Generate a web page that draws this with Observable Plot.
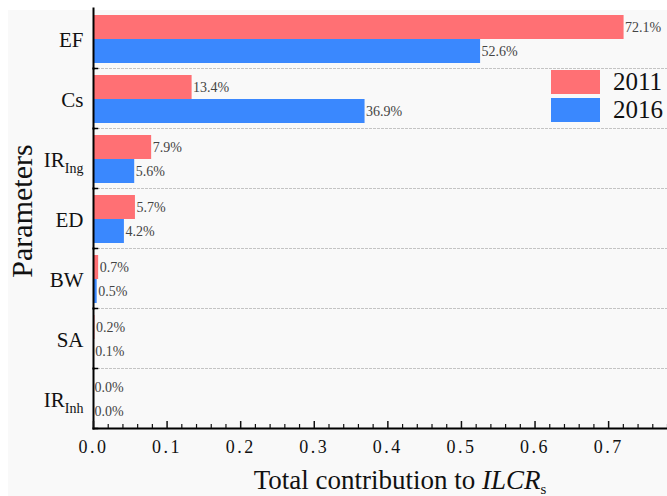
<!DOCTYPE html>
<html><head><meta charset="utf-8">
<script src="https://cdn.jsdelivr.net/npm/d3@7"></script>
<script src="https://cdn.jsdelivr.net/npm/@observablehq/plot@0.6"></script>
<style>
html,body{margin:0;padding:0;background:#fff;}
#wrap{position:relative;width:667px;height:496px;overflow:hidden;}
#panel{position:absolute;left:8px;top:10px;right:0;bottom:0;background:#f9f9f9;}
#chart{position:absolute;left:0;top:0;}
#chart svg, #chart svg text{font-family:"Liberation Serif","Times New Roman","DejaVu Serif",serif !important;}
#legend{position:absolute;left:551px;top:68.6px;font-family:"Liberation Serif","Times New Roman","DejaVu Serif",serif;font-size:25px;color:#111;}
.row{display:flex;align-items:center;height:27.3px;}
.sw{width:49px;height:24px;margin-right:13px;}
</style></head><body>
<div id="wrap"><div id="panel"></div><div id="chart"></div><div id="legend"></div></div>
<script>
// ---- data ----
const params = ["EF", "Cs", "IR_Ing", "ED", "BW", "SA", "IR_Inh"];
const years = ["2011", "2016"];
const values2011 = [0.721, 0.134, 0.079, 0.057, 0.007, 0.002, 0.000];
const values2016 = [0.526, 0.369, 0.056, 0.042, 0.005, 0.001, 0.000];
const xMajorTicks = [0, 0.1, 0.2, 0.3, 0.4, 0.5, 0.6, 0.7];
const xMinorTicks = [0.02,0.04,0.06,0.08,0.12,0.14,0.16,0.18,0.22,0.24,0.26,0.28,0.32,0.34,0.36,0.38,0.42,0.44,0.46,0.48,0.52,0.54,0.56,0.58,0.62,0.64,0.66,0.68,0.72,0.74,0.76,0.78];
const yearColors = ["#ff7074", "#3a88fe"];
const xTitle = "Total contribution to ";
const xTitleItalic = "ILCR";
const xTitleSub = "s";
const yTitle = "Parameters";

const data = params.flatMap((p, i) => [
  {param: p, year: years[0], value: values2011[i]},
  {param: p, year: years[1], value: values2016[i]}
]);

const W = 667, H = 496, ML = 93;
const pct = d3.format(".1%");
const FONT = "'Liberation Serif', 'Times New Roman', 'DejaVu Serif', serif";

const chart = Plot.plot({
  width: W, height: H,
  marginLeft: ML, marginRight: 0, marginTop: 6, marginBottom: 66,
  style: {background: "transparent", fontFamily: FONT, color: "#111", overflow: "visible"},
  x: {domain: [0, 0.78]},
  fy: {domain: params, padding: 0},
  y: {domain: years, paddingInner: 0, paddingOuter: 0.236, align: 0.6, axis: null},
  color: {domain: years, range: yearColors},
  marks: [
    Plot.frame({anchor: "bottom", stroke: "#c4c4c4", strokeDasharray: "2,2", strokeWidth: 1}),
    Plot.barX(data, {fy: "param", y: "year", x: "value", fill: "year"}),
    Plot.text(data, {fy: "param", y: "year", x: "value", text: d => pct(d.value),
      textAnchor: "start", dx: 1, fontSize: 14, fill: "#444", letterSpacing: 0.6}),
    Plot.frame({anchor: "left", stroke: "#000", strokeWidth: 2}),
    Plot.frame({anchor: "bottom", stroke: "#000", strokeWidth: 1.5, insetRight: W - ML - 4}),
    Plot.frame({anchor: "bottom", stroke: "#000", strokeWidth: 2, fy: () => params[params.length - 1]}),
    Plot.axisFy({anchor: "left", tickSize: 0, tickPadding: 10, fontSize: 21, label: null, fill: "#111", dy: 2}),
    Plot.axisX({ticks: xMajorTicks, tickSize: 0, tickPadding: 12, tickFormat: d3.format(".1f"), fontSize: 18, label: null, fill: "#111"}),
    Plot.axisX({ticks: xMajorTicks, tickSize: -7, tickFormat: () => "", label: null, strokeWidth: 1.5}),
    Plot.axisX({ticks: xMinorTicks, tickSize: -4, tickFormat: () => "", label: null, strokeWidth: 1.2})
  ]
});
document.getElementById("chart").appendChild(chart);

const svg = d3.select(chart);
// subscripts in category labels
svg.selectAll("text").each(function() {
  const t = this.textContent;
  const m = /^([A-Za-z]+)_([A-Za-z]+)$/.exec(t);
  if (m && this.childElementCount === 0) {
    const s = d3.select(this);
    s.text(m[1]);
    s.append("tspan").attr("dy", 6).attr("font-size", 14).text(m[2]);
  }
});
// x-axis tick labels letter spacing
svg.selectAll("[aria-label='x-axis tick label'] text").attr("letter-spacing", 2.5);

const xt = svg.append("text").attr("x", 400).attr("y", 489).attr("text-anchor", "middle")
  .attr("font-size", 27).attr("fill", "#111").attr("font-family", FONT);
xt.append("tspan").text(xTitle);
xt.append("tspan").attr("font-style", "italic").text(xTitleItalic);
xt.append("tspan").attr("font-size", 15).attr("dy", 5).text(xTitleSub);

svg.append("text").attr("transform", "translate(32,211) rotate(-90)").attr("text-anchor", "middle")
  .attr("font-size", 30).attr("fill", "#111").attr("font-family", FONT).text(yTitle);

// legend
const leg = d3.select("#legend");
years.forEach((y, i) => {
  const r = leg.append("div").attr("class", "row");
  r.append("div").attr("class", "sw").style("background", yearColors[i]);
  r.append("span").text(y);
});
</script>
</body></html>
